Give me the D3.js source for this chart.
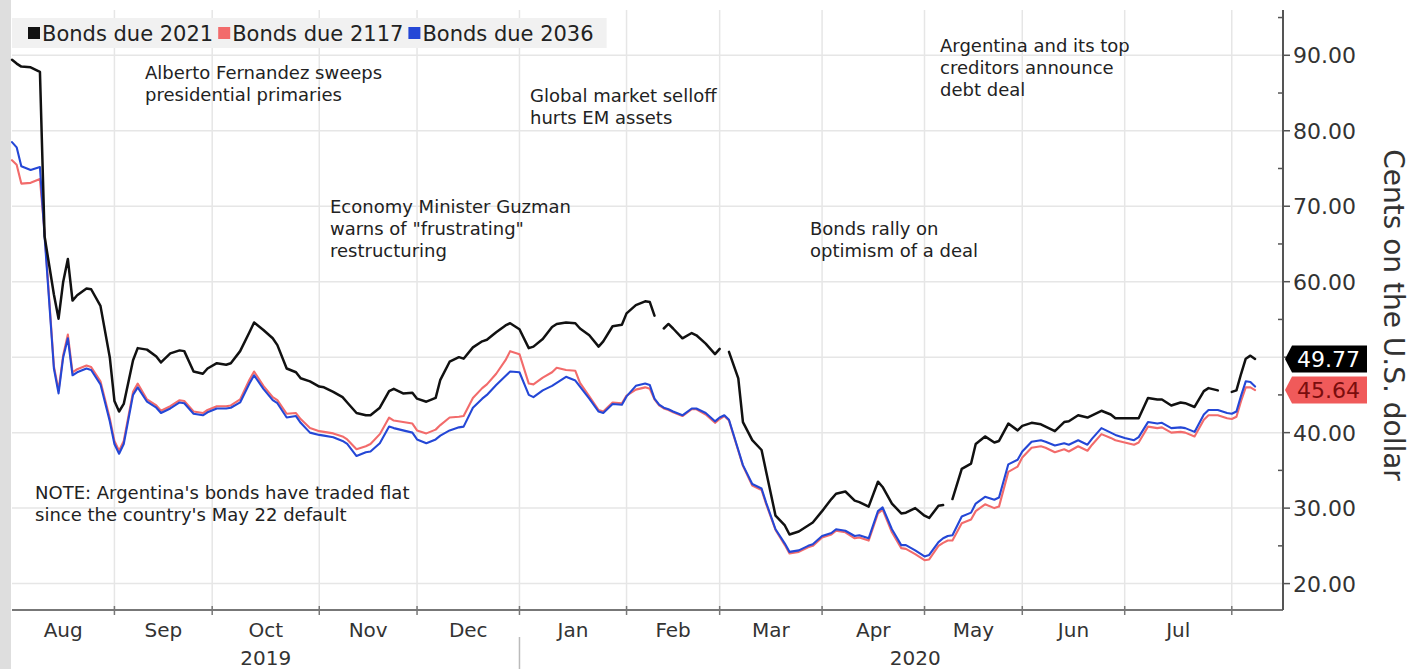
<!DOCTYPE html>
<html>
<head>
<meta charset="utf-8">
<script src="https://cdn.jsdelivr.net/npm/d3@7"></script>
<style>
  html, body { margin: 0; padding: 0; background: #ffffff; }
  svg { display: block; font-family: "DejaVu Sans", Verdana, sans-serif; }
</style>
</head>
<body>
<svg id="chart" width="1415" height="669"></svg>
<script>
// ---- data: Argentine sovereign bond prices, cents on the dollar ----
const dates = [
  "2019-08-01","2019-08-02","2019-08-05","2019-08-07","2019-08-09","2019-08-12","2019-08-14","2019-08-15","2019-08-16","2019-08-19","2019-08-20","2019-08-21","2019-08-23","2019-08-26","2019-08-28","2019-08-30",
  "2019-09-02","2019-09-03","2019-09-04","2019-09-06","2019-09-09","2019-09-11","2019-09-13","2019-09-16","2019-09-18","2019-09-20","2019-09-23","2019-09-25","2019-09-27","2019-09-30",
  "2019-10-02","2019-10-04","2019-10-07","2019-10-09","2019-10-11","2019-10-14","2019-10-16","2019-10-18","2019-10-21","2019-10-23","2019-10-25","2019-10-28","2019-10-30",
  "2019-11-01","2019-11-04","2019-11-06","2019-11-08","2019-11-11","2019-11-13","2019-11-15","2019-11-18","2019-11-20","2019-11-22","2019-11-25","2019-11-27","2019-11-29",
  "2019-12-02","2019-12-04","2019-12-06","2019-12-09","2019-12-11","2019-12-13","2019-12-16","2019-12-18","2019-12-20","2019-12-23","2019-12-25","2019-12-27","2019-12-30",
  "2020-01-01","2020-01-03","2020-01-06","2020-01-08","2020-01-10","2020-01-13","2020-01-15","2020-01-17","2020-01-20","2020-01-22","2020-01-24","2020-01-27","2020-01-29","2020-01-31",
  "2020-02-03","2020-02-05","2020-02-07","2020-02-10","2020-02-11","2020-02-12","2020-02-13","2020-02-14","2020-02-17","2020-02-19","2020-02-21","2020-02-24","2020-02-26","2020-02-28",
  "2020-03-02","2020-03-03","2020-03-04","2020-03-06","2020-03-09","2020-03-11","2020-03-13","2020-03-16","2020-03-18","2020-03-20","2020-03-23","2020-03-25","2020-03-27","2020-03-30",
  "2020-04-01","2020-04-03","2020-04-06","2020-04-08","2020-04-10","2020-04-13","2020-04-15","2020-04-17","2020-04-20","2020-04-22","2020-04-24","2020-04-27","2020-04-29",
  "2020-05-01","2020-05-04","2020-05-06","2020-05-07","2020-05-08","2020-05-11","2020-05-13","2020-05-15","2020-05-18","2020-05-20","2020-05-22","2020-05-25","2020-05-27","2020-05-29",
  "2020-06-01","2020-06-03","2020-06-05","2020-06-08","2020-06-10","2020-06-12","2020-06-15","2020-06-17","2020-06-19","2020-06-22","2020-06-24","2020-06-26","2020-06-29",
  "2020-07-01","2020-07-03","2020-07-06","2020-07-08","2020-07-10","2020-07-13","2020-07-15","2020-07-17","2020-07-20","2020-07-22","2020-07-24","2020-07-27","2020-07-29","2020-07-30","2020-07-31",
  "2020-08-03","2020-08-04","2020-08-05","2020-08-06","2020-08-07","2020-08-10"
];

// null marks a day without a quote (line breaks there)
const bonds2021 = [
  89.4,88.9,88.5,88.4,87.8,66.0,58.3,55.1,60.0,63.0,57.5,58.2,59.1,59.0,56.8,50.0,
  44.2,42.8,43.8,49.6,51.2,51.0,50.1,49.3,50.5,50.9,50.8,48.1,47.8,48.5,
  49.2,49.0,49.2,50.8,53.3,54.6,53.6,52.5,51.6,48.5,48.0,47.2,46.8,
  46.1,46.0,45.4,44.7,44.0,42.6,42.3,42.3,43.3,45.5,45.8,45.2,45.3,
  44.5,44.1,44.6,47.0,49.4,50.0,49.8,51.3,52.1,52.3,53.3,54.2,54.5,
  53.7,51.2,51.4,52.4,54.0,54.4,54.6,54.5,53.8,52.9,51.4,52.1,54.1,54.3,
  55.8,56.9,57.4,57.3,55.5,null,53.8,54.4,53.8,52.5,53.2,52.9,51.8,50.4,
  51.1,null,50.7,47.2,41.4,39.0,37.7,34.8,29.0,27.7,26.5,26.9,27.7,28.1,
  29.6,31.2,31.9,32.2,31.0,30.8,30.2,33.5,32.8,30.6,29.3,29.4,30.0,
  29.0,28.7,30.3,30.4,null,31.2,35.2,35.9,38.5,39.5,38.7,38.9,41.2,40.3,
  40.9,41.3,41.1,40.8,40.2,41.4,41.5,42.3,42.0,42.3,42.9,42.4,41.9,
  41.9,41.9,41.9,44.6,44.4,44.4,43.6,44.0,43.9,43.4,45.5,45.9,45.6,null,null,
  45.4,45.6,47.8,49.8,50.2,49.77
];

const bonds2117 = [
  76.1,75.5,73.0,73.1,73.6,66.5,48.8,45.6,50.3,53.0,48.0,48.4,48.9,48.7,46.8,41.9,
  38.9,37.6,38.9,45.4,46.5,44.4,43.6,42.9,43.5,44.3,44.2,42.8,42.6,43.0,
  43.5,43.5,43.6,44.4,47.0,48.1,46.2,44.7,44.3,42.5,42.6,41.8,40.6,
  40.2,40.1,39.9,39.5,39.1,37.8,38.2,38.5,39.8,42.0,41.6,41.4,41.2,
  40.3,39.9,40.4,41.0,42.0,42.1,42.2,44.6,45.9,46.4,47.8,49.6,50.8,
  50.4,46.5,46.4,47.3,48.0,48.6,48.3,48.2,46.6,44.8,43.0,42.8,44.0,43.9,
  44.9,45.7,46.0,45.8,44.4,43.6,43.2,43.0,42.7,42.2,43.1,43.1,42.4,41.3,
  41.8,42.2,41.6,37.6,35.6,33.0,32.4,30.5,27.1,25.1,24.0,24.2,24.8,25.0,
  26.1,26.5,27.0,26.8,26.0,26.1,25.7,29.3,29.8,26.8,24.7,24.6,23.9,
  23.1,23.2,25.0,25.4,25.7,25.7,28.0,28.5,29.6,30.5,30.0,30.2,34.8,35.5,
  36.7,38.0,38.2,38.0,37.4,37.8,37.5,38.2,37.6,38.4,39.8,39.3,39.0,
  38.7,38.4,38.7,40.8,40.6,40.7,40.0,40.1,40.0,39.5,41.7,42.3,42.3,42.1,41.9,
  41.8,42.1,44.2,46.0,46.0,45.64
];

const bonds2036 = [
  78.5,77.8,75.3,74.8,75.2,66.0,48.5,45.2,50.0,52.5,47.6,48.0,48.5,48.3,46.4,41.5,
  38.5,37.2,38.5,45.0,46.0,44.1,43.3,42.6,43.2,44.0,43.9,42.5,42.3,42.7,
  43.2,43.2,43.3,44.0,46.5,47.6,45.8,44.3,43.9,42.0,42.2,41.3,40.0,
  39.7,39.6,39.4,38.9,38.5,36.9,37.4,37.5,38.6,40.8,40.6,40.3,40.0,
  39.1,38.6,39.1,39.6,40.3,40.7,40.8,43.3,44.5,45.0,46.3,47.5,48.1,
  48.0,45.0,44.7,45.6,46.2,46.6,47.4,46.9,46.1,44.5,42.8,42.6,43.8,43.7,
  44.8,46.2,46.5,46.3,44.5,43.7,43.3,43.1,42.8,42.3,43.2,43.2,42.6,41.5,
  42.0,42.3,41.7,37.7,35.7,33.2,32.6,30.7,27.2,25.3,24.2,24.4,25.0,25.2,
  26.3,26.7,27.2,27.0,26.3,26.4,26.0,29.6,30.1,27.2,25.1,25.1,24.4,
  23.6,23.8,25.5,26.0,26.3,26.4,28.9,29.4,30.6,31.5,31.1,31.4,35.8,36.4,
  37.5,38.8,39.0,38.8,38.3,38.6,38.4,39.0,38.4,39.2,40.6,40.0,39.7,
  39.3,39.0,39.4,41.4,41.2,41.3,40.6,40.7,40.6,40.1,42.4,43.0,43.0,42.8,42.6,
  42.5,42.8,44.9,46.8,46.7,46.1
];

const seriesNames = ["Bonds due 2021", "Bonds due 2117", "Bonds due 2036"];
const seriesColors = ["#111111", "#f26b6b", "#2447d6"];
const yTickValues = [20, 30, 40, 50, 60, 70, 80, 90];
const yLabelValues = [20, 30, 40, 60, 70, 80, 90];
const yMinorValues = [25, 35, 45, 55, 65, 75, 85, 95];
const axisTitle = "Cents on the U.S. dollar";

const notes = [
  { lines: ["Alberto Fernandez sweeps", "presidential primaries"], x: 145, y: 79 },
  { lines: ["Global market selloff", "hurts EM assets"], x: 530, y: 102 },
  { lines: ["Economy Minister Guzman", "warns of \"frustrating\"", "restructuring"], x: 330, y: 213 },
  { lines: ["Bonds rally on", "optimism of a deal"], x: 810, y: 235 },
  { lines: ["Argentina and its top", "creditors announce", "debt deal"], x: 940, y: 52 },
  { lines: ["NOTE: Argentina's bonds have traded flat", "since the country's May 22 default"], x: 35, y: 499 }
];

// ---- layout ----
const svg = d3.select("#chart");
const plot = { left: 12, right: 1283, top: 10, bottom: 610 };
const parse = d3.timeParse("%Y-%m-%d");
const t0 = parse("2019-08-01");
const tEnd = parse("2020-08-18");

// trading-day axis: weekends take no space
function tradingIndex(d) {
  return d3.timeDay.range(t0, d).filter(t => t.getDay() % 6 !== 0).length;
}

const x = d3.scaleLinear().domain([0, tradingIndex(tEnd)]).range([plot.left, plot.right]);
const y = d3.scaleLinear().domain([16.5, 96]).range([plot.bottom, plot.top]);

const points = dates.map(parse);
const xi = points.map(tradingIndex);
const drawOrder = [1, 2, 0];
const columns = [bonds2021, bonds2117, bonds2036];
const series = drawOrder.map(k => ({
  name: seriesNames[k],
  color: seriesColors[k],
  width: k === 0 ? 2.5 : 2.1,
  values: columns[k].map((v, i) => ({ i: xi[i], v }))
}));

// left page margin strip
svg.append("rect").attr("x", 0).attr("y", 0).attr("width", plot.left - 1).attr("height", 669).attr("fill", "#dedede");

// month boundaries
const months = d3.timeMonth.range(d3.timeMonth.floor(t0), tEnd);
const monthStarts = months.map(m => ({ m, i: tradingIndex(m < t0 ? t0 : m) }));

const grid = svg.append("g");
grid.selectAll("line.h").data(yTickValues).join("line")
  .attr("x1", plot.left).attr("x2", plot.right)
  .attr("y1", d => y(d)).attr("y2", d => y(d))
  .attr("stroke", "#e6e6e6").attr("stroke-width", 1.5);
grid.selectAll("line.v").data(monthStarts.slice(1)).join("line")
  .attr("x1", d => x(d.i)).attr("x2", d => x(d.i))
  .attr("y1", plot.top).attr("y2", plot.bottom)
  .attr("stroke", "#e6e6e6").attr("stroke-width", 1.5);

// series lines
const line = d3.line()
  .defined(d => d.v !== null)
  .x(d => x(d.i))
  .y(d => y(d.v));
svg.append("g").selectAll("path").data(series).join("path")
  .attr("d", d => line(d.values))
  .attr("fill", "none")
  .attr("stroke", d => d.color)
  .attr("stroke-width", d => d.width)
  .attr("stroke-linejoin", "round")
  .attr("stroke-linecap", "round");

// bottom axis
const xAxis = svg.append("g");
xAxis.append("line").attr("x1", plot.left).attr("x2", plot.right)
  .attr("y1", plot.bottom).attr("y2", plot.bottom).attr("stroke", "#777").attr("stroke-width", 2);
xAxis.selectAll("line.t").data(monthStarts.slice(1)).join("line")
  .attr("x1", d => x(d.i)).attr("x2", d => x(d.i))
  .attr("y1", plot.bottom - 4).attr("y2", plot.bottom + 5)
  .attr("stroke", "#777").attr("stroke-width", 1.5);

const monthSpans = monthStarts.map((d, k) => {
  const next = k + 1 < monthStarts.length ? monthStarts[k + 1].i : null;
  return { m: d.m, a: d.i, b: next };
}).filter(d => d.b !== null);
xAxis.selectAll("text.m").data(monthSpans).join("text")
  .attr("x", d => x((d.a + d.b) / 2)).attr("y", 637)
  .attr("text-anchor", "middle").attr("font-size", 20).attr("fill", "#333")
  .text(d => d3.timeFormat("%b")(d.m));

// year labels centred under their months
const years = d3.groups(monthStarts.map((d, k) => {
  const b = k + 1 < monthStarts.length ? monthStarts[k + 1].i : x.domain()[1];
  return { yr: d.m.getFullYear(), c: (d.i + b) / 2 };
}), d => d.yr);
xAxis.selectAll("text.y").data(years).join("text")
  .attr("x", d => x((d3.min(d[1], e => e.c) + d3.max(d[1], e => e.c)) / 2)).attr("y", 665)
  .attr("text-anchor", "middle").attr("font-size", 20).attr("fill", "#333")
  .text(d => d[0]);
const yearBreak = tradingIndex(parse("2020-01-01"));
xAxis.append("line").attr("x1", x(yearBreak)).attr("x2", x(yearBreak))
  .attr("y1", 637).attr("y2", 669).attr("stroke", "#bbb").attr("stroke-width", 1.5);

// right value axis (the 50 label sits behind the last-value tags)
const yAxis = svg.append("g");
yAxis.append("line").attr("x1", plot.right).attr("x2", plot.right)
  .attr("y1", plot.top).attr("y2", plot.bottom).attr("stroke", "#555").attr("stroke-width", 2);
yAxis.selectAll("line.maj").data(yTickValues).join("line")
  .attr("x1", plot.right).attr("x2", plot.right + 7)
  .attr("y1", d => y(d)).attr("y2", d => y(d)).attr("stroke", "#555").attr("stroke-width", 1.5);
yAxis.selectAll("line.min").data(yMinorValues).join("line")
  .attr("x1", plot.right - 5).attr("x2", plot.right)
  .attr("y1", d => y(d)).attr("y2", d => y(d)).attr("stroke", "#555").attr("stroke-width", 1.5);
yAxis.selectAll("text").data(yLabelValues).join("text")
  .attr("x", plot.right + 10).attr("y", d => y(d)).attr("dy", "0.36em")
  .attr("font-size", 22).attr("fill", "#333")
  .text(d => d3.format(".2f")(d));
svg.append("text")
  .attr("transform", "translate(1384, 315) rotate(90)")
  .attr("text-anchor", "middle").attr("font-size", 28).attr("fill", "#333")
  .text(axisTitle);

// last-value tags
const tags = [
  { v: bonds2021[bonds2021.length - 1], fill: "#000000", text: "#ffffff" },
  { v: bonds2117[bonds2117.length - 1], fill: "#f05a5a", text: "#7a0d0d" }
];
const tagG = svg.append("g").selectAll("g").data(tags).join("g")
  .attr("transform", d => `translate(${plot.right + 2}, ${y(d.v)})`);
tagG.append("path")
  .attr("d", "M0,0 L7,-13.5 L82,-13.5 L82,13.5 L7,13.5 Z")
  .attr("fill", d => d.fill);
tagG.append("text")
  .attr("x", 12).attr("dy", "0.36em")
  .attr("font-size", 22).attr("fill", d => d.text)
  .text(d => d3.format(".2f")(d.v));

// legend on its grey band
const legendBand = svg.append("rect").attr("x", plot.left).attr("y", 18).attr("height", 30).attr("fill", "#f1f1f1");
const legend = svg.append("g");
let lx = 28;
[0, 1, 2].forEach(k => {
  legend.append("rect").attr("x", lx).attr("y", 27).attr("width", 12).attr("height", 12)
    .attr("fill", seriesColors[k]);
  const t = legend.append("text").attr("x", lx + 14).attr("y", 41)
    .attr("font-size", 21).attr("fill", "#222").text(seriesNames[k]);
  lx += 14 + t.node().getComputedTextLength() + 5;
});
legendBand.attr("width", lx + 8 - plot.left);

// annotations
const ann = svg.append("g");
notes.forEach(n => {
  const t = ann.append("text").attr("x", n.x).attr("y", n.y)
    .attr("font-size", 18).attr("fill", "#222");
  n.lines.forEach((s, k) => {
    t.append("tspan").attr("x", n.x).attr("dy", k === 0 ? 0 : 22).text(s);
  });
});
</script>
</body>
</html>
